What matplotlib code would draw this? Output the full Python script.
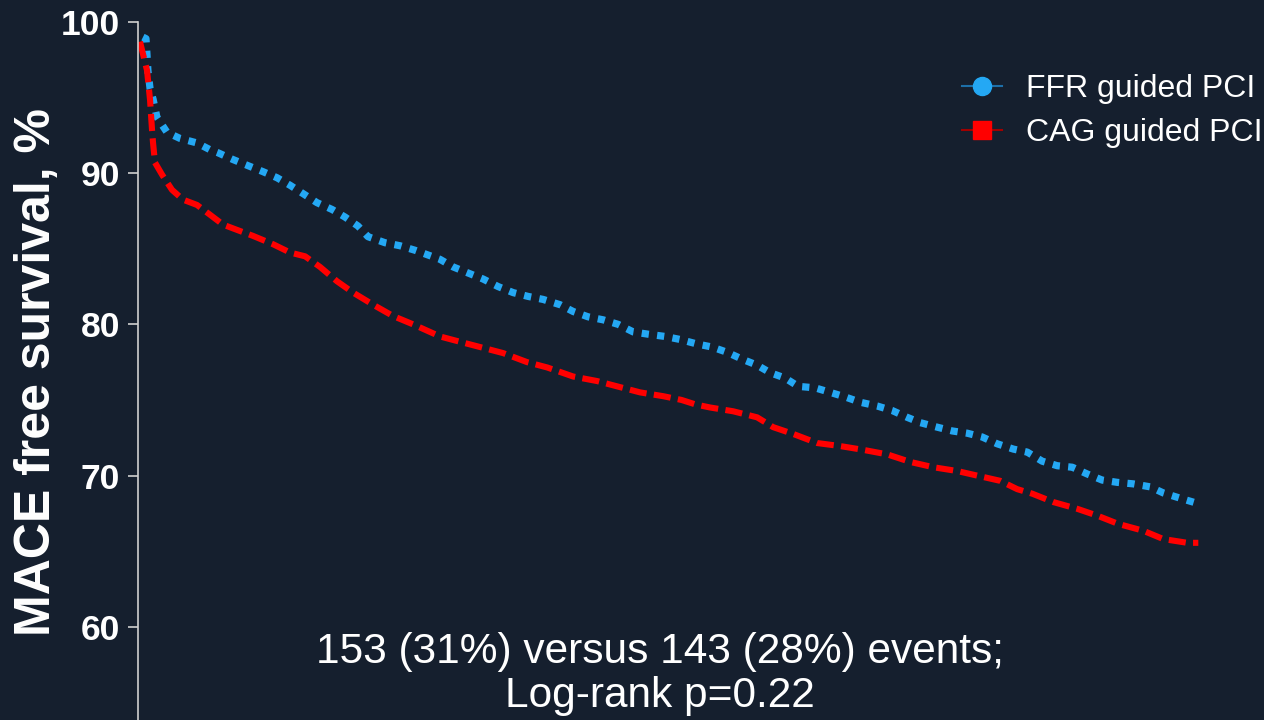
import numpy as np
import matplotlib.pyplot as plt
from matplotlib.lines import Line2D

plt.rcParams['font.family'] = ['Liberation Sans', 'DejaVu Sans']

BG = '#151f2e'
FFR_COLOR = '#24a8f4'
CAG_COLOR = '#ff0000'

# follow-up time (months) and MACE-free survival (%)
ffr_t = [0.28, 0.45, 0.51, 0.56, 0.68, 0.85, 1.07, 1.64, 2.37, 3.33, 4.07, 4.52,
         5.37, 6.21, 7.06, 7.85, 8.59, 9.32, 10.11, 10.96, 11.69, 12.43, 12.99,
         13.95, 14.80, 15.65, 17.06, 17.80, 18.64, 19.49, 20.34, 21.19, 22.03,
         22.88, 23.84, 24.58, 25.42, 26.27, 27.12, 27.97, 28.81, 29.77, 30.62,
         31.58, 32.43, 33.28, 34.12, 34.97, 35.71, 36.55, 37.29, 38.25, 39.10,
         39.94, 40.79, 41.75, 42.60, 43.45, 44.18, 45.14, 45.99, 46.84, 47.68,
         48.53, 49.44, 50.23, 51.07, 51.92, 52.77, 53.62, 54.46, 55.31, 56.21,
         57.18, 57.91, 58.87, 59.72, 60.0]
ffr_s = [99.0, 98.9, 97.8, 96.8, 95.6, 94.9, 93.7, 92.7, 92.3, 92.0, 91.55, 91.35,
         90.9, 90.5, 90.1, 89.7, 89.2, 88.65, 88.05, 87.6, 87.1, 86.5, 85.8,
         85.4, 85.2, 84.9, 84.3, 83.8, 83.4, 83.0, 82.5, 82.1, 81.85,
         81.65, 81.3, 80.85, 80.5, 80.3, 80.0, 79.5, 79.35, 79.2, 79.0,
         78.7, 78.5, 78.15, 77.7, 77.3, 76.8, 76.45, 75.9, 75.8, 75.5,
         75.2, 74.85, 74.6, 74.3, 73.85, 73.5, 73.2, 72.95, 72.8, 72.55,
         72.1, 71.75, 71.55, 70.95, 70.65, 70.55, 70.1, 69.7, 69.55, 69.45,
         69.25, 68.85, 68.5, 68.2, 68.05]

cag_t = [0.11, 0.51, 0.68, 0.79, 0.85, 0.96, 1.36, 1.92, 2.54, 3.33, 4.07, 4.80,
         5.59, 6.50, 7.63, 8.59, 9.44, 10.28, 11.24, 12.15, 13.28, 14.41, 15.54,
         17.06, 18.02, 19.32, 20.62, 21.98, 23.11, 24.58, 25.93, 27.06, 28.36,
         29.66, 30.70, 31.50, 32.32, 33.62, 34.97, 35.88, 37.01, 38.36, 39.66,
         40.96, 42.32, 43.62, 44.92, 46.27, 47.57, 48.70, 49.66, 50.51, 51.69,
         53.05, 54.18, 55.37, 56.78, 57.91, 59.27, 59.89]
cag_s = [98.7, 96.8, 94.85, 92.9, 92.0, 90.7, 89.9, 88.9, 88.25, 87.9, 87.25, 86.6,
         86.25, 85.85, 85.3, 84.75, 84.5, 83.8, 82.85, 82.1, 81.3, 80.55, 80.0,
         79.2, 78.9, 78.5, 78.1, 77.5, 77.15, 76.55, 76.25, 75.9, 75.5,
         75.25, 75.0, 74.7, 74.5, 74.25, 73.85, 73.2, 72.75, 72.15, 71.95,
         71.7, 71.4, 70.9, 70.55, 70.3, 69.95, 69.65, 69.1, 68.8, 68.25,
         67.8, 67.35, 66.8, 66.35, 65.8, 65.55, 65.55]

y_ticks = [60, 70, 80, 90, 100]

fig = plt.figure(figsize=(12.64, 7.2), dpi=100, facecolor=BG)
ax = fig.add_axes([138 / 1264, 0, 1126 / 1264, 698 / 720])
ax.set_facecolor(BG)

ax.plot(ffr_t, ffr_s, color=FFR_COLOR, lw=5.2, dashes=(1, 1.15),
        dash_capstyle='butt')
ax.plot(cag_t, cag_s, color=CAG_COLOR, lw=4.4, dashes=(2.8, 1.2),
        dash_capstyle='butt')

ax.set_xlim(0, 63.6)
ax.set_ylim(53.83, 100)
ax.set_yticks(y_ticks)
ax.set_xticks([])

for side in ['top', 'right', 'bottom']:
    ax.spines[side].set_visible(False)
ax.spines['left'].set_color('#d0d0d0')
ax.spines['left'].set_linewidth(1.2)
ax.tick_params(axis='y', colors='#d0d0d0', length=7, width=1.2, pad=6,
               labelcolor='white', labelsize=25.5)
for lab in ax.get_yticklabels():
    lab.set_fontweight('bold')

ax.set_ylabel('MACE free survival, %', fontsize=36, fontweight='bold',
              color='white')
ax.yaxis.set_label_coords(-0.069, 0.499)

handles = [
    Line2D([], [], color='#1d6fa8', lw=1.5, marker='o', markersize=13,
           markerfacecolor=FFR_COLOR, markeredgecolor=FFR_COLOR),
    Line2D([], [], color='#a00000', lw=1.5, marker='s', markersize=13,
           markerfacecolor=CAG_COLOR, markeredgecolor=CAG_COLOR),
]
leg = fig.legend(handles, ['FFR guided PCI', 'CAG guided PCI'],
                 loc='upper right', bbox_to_anchor=(1262 / 1264, 1 - 74 / 720),
                 frameon=False, fontsize=23, handlelength=1.25,
                 handletextpad=0.75, labelspacing=0.45, borderpad=0,
                 borderaxespad=0)
for txt in leg.get_texts():
    txt.set_color('white')

fig.text(660 / 1264, 1 - 674 / 720,
         '153 (31%) versus 143 (28%) events;\nLog-rank p=0.22',
         ha='center', va='center', fontsize=30.5, color='white',
         linespacing=1.15)

fig.savefig('out.png', dpi=100, facecolor=BG)
